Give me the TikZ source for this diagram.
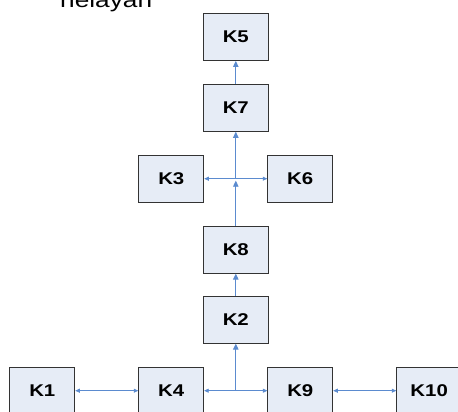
\documentclass[tikz,border=0pt]{standalone}
\usepackage{fontspec}
\setmainfont{Liberation Sans}
\newfontfamily\widefont[FakeStretch=1.2]{Liberation Sans}
\newfontfamily\headfont[FakeStretch=1.25]{Liberation Sans}
\usetikzlibrary{arrows.meta}
\definecolor{boxfill}{HTML}{E6ECF6}
\definecolor{boxline}{HTML}{333333}
\definecolor{linkblue}{HTML}{5B8BCF}
\tikzset{
  kbox/.style={draw=boxline, line width=0.9pt, fill=boxfill,
    minimum width=65pt, minimum height=47pt, inner sep=0pt,
    font=\widefont\fontsize{17}{19}\selectfont\bfseries},
  link/.style={draw=linkblue, line width=0.9pt,
    -{Triangle[length=6pt,width=5.5pt]}},
  hlink/.style={draw=linkblue, line width=0.7pt,
    -{Triangle[length=4.5pt,width=4pt]}},
  hboth/.style={draw=linkblue, line width=0.7pt,
    {Triangle[length=4.5pt,width=4pt]}-{Triangle[length=4.5pt,width=4pt]}},
}
\begin{document}
\begin{tikzpicture}[x=1pt, y=-1pt]
  \useasboundingbox (0,0) rectangle (458,412);
  \clip (0,0) rectangle (458,412);

  % heading text, partly above the frame
  \node[anchor=base west, inner sep=0pt, font=\headfont\fontsize{21}{24}\selectfont]
    (title) at (60,7.5) {nelayan};

  % boxes
  \node[kbox] (k5)  at (235.8, 37)    {K5};
  \node[kbox] (k7)  at (235.8, 107.8) {K7};
  \node[kbox] (k3)  at (171.3, 178.7) {K3};
  \node[kbox] (k6)  at (300.2, 178.7) {K6};
  \node[kbox] (k8)  at (235.8, 249.7) {K8};
  \node[kbox] (k2)  at (235.8, 319.7) {K2};
  \node[kbox] (k1)  at (42.3, 390.7)  {K1};
  \node[kbox] (k4)  at (171.2, 390.7) {K4};
  \node[kbox] (k9)  at (300.3, 390.7) {K9};
  \node[kbox] (k10) at (429.2, 390.7) {K10};

  % branching points
  \coordinate (jmid) at (235.8, 178.7);
  \coordinate (jlow) at (235.8, 390.7);

  % upper chain
  \draw[link] (k7) -- (k5);
  \draw[link] (k8) -- ([yshift=-2pt]jmid);
  \draw[link] (jmid) -- (k7);
  \draw[hlink] (jmid) -- (k3);
  \draw[hlink] (jmid) -- (k6);
  \draw[link] (k2) -- (k8);

  % bottom row
  \draw[link] (jlow) -- (k2);
  \draw[hlink] (jlow) -- (k4);
  \draw[hlink] (jlow) -- (k9);
  \draw[hboth] (k1) -- (k4);
  \draw[hboth] (k9) -- (k10);
\end{tikzpicture}
\end{document}
